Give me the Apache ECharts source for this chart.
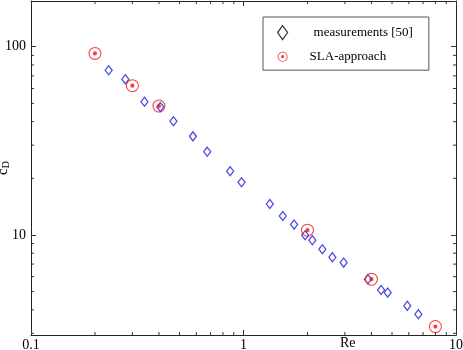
<!DOCTYPE html>
<html>
<head>
<meta charset="utf-8">
<script src="https://cdn.jsdelivr.net/npm/echarts@6/dist/echarts.min.js"></script>
<style>
  html, body { margin: 0; padding: 0; background: #fff; }
  #chart { width: 463px; height: 350px; }
</style>
</head>
<body>
<div id="chart"></div>
<script>
// measurements [50]
const measRe = [0.232, 0.278, 0.342, 0.406, 0.468, 0.578, 0.675, 0.865, 0.979, 1.33, 1.53,
  1.73, 1.95, 2.11, 2.35, 2.62, 2.96, 3.85, 4.44, 4.77, 5.90, 6.65];
const measCd = [75.0, 67.1, 51.0, 47.8, 40.2, 33.4, 27.7, 21.8, 19.05, 14.6, 12.6,
  11.35, 9.96, 9.37, 8.40, 7.62, 7.13, 5.82, 5.10, 4.94, 4.20, 3.79];
// SLA-approach
const slaRe = [0.2, 0.3, 0.4, 2, 4, 8];
const slaCd = [92.2, 62.1, 48.4, 10.6, 5.82, 3.26];

// axis ranges and minor tick positions
const xRange = [0.1, 10];
const yRange = [2.94, 175];
const xMinor = [0.2, 0.3, 0.4, 0.5, 0.6, 0.7, 0.8, 0.9, 2, 3, 4, 5, 6, 7, 8, 9];
const yMinor = [3, 4, 5, 6, 7, 8, 9, 20, 30, 40, 50, 60, 70, 80, 90];

const serif = "'Liberation Serif', 'DejaVu Serif', serif";
const axisColor = '#222';
const tickColor = '#333';

// ring with a dot in the middle
const slaSymbol = 'path://M0 50A50 50 0 1 1 100 50A50 50 0 1 1 0 50Z' +
  'M8 50A42 42 0 1 0 92 50A42 42 0 1 0 8 50Z' +
  'M34 50A16 16 0 1 1 66 50A16 16 0 1 1 34 50Z';

function pairs(xs, ys) {
  return xs.map((x, i) => [x, ys[i]]);
}

function tickLine(x1, y1, x2, y2) {
  return { type: 'line', shape: { x1, y1, x2, y2 }, style: { stroke: tickColor, lineWidth: 1 } };
}

let chart = echarts.init(document.getElementById('chart'));

let baseX = {
  type: 'log',
  logBase: 10,
  min: xRange[0],
  max: xRange[1],
  axisLine: { lineStyle: { color: axisColor, width: 1 } },
  axisTick: { inside: true, length: 5, lineStyle: { color: tickColor } },
  splitLine: { show: false }
};
let baseY = {
  type: 'log',
  logBase: 10,
  min: yRange[0],
  max: yRange[1],
  axisLine: { lineStyle: { color: axisColor, width: 1 } },
  axisTick: { inside: true, length: 5, lineStyle: { color: tickColor } },
  splitLine: { show: false }
};

let option = {
  animation: false,
  backgroundColor: '#fff',
  grid: { left: 31, right: 7, top: 1, bottom: 15, containLabel: false, outerBoundsMode: 'none' },
  xAxis: [
    Object.assign({}, baseX, {
      position: 'bottom',
      axisLabel: {
        margin: 3, color: '#000', fontSize: 14, fontFamily: serif,
        formatter: v => String(+Number(v).toPrecision(3))
      }
    }),
    Object.assign({}, baseX, { position: 'top', axisLabel: { show: false } })
  ],
  yAxis: [
    Object.assign({}, baseY, {
      position: 'left',
      name: '{c|c}{d|D}',
      nameLocation: 'middle',
      nameGap: 20,
      nameMoveOverlap: false,
      nameTextStyle: {
        color: '#000',
        rich: {
          c: { fontSize: 15, fontFamily: serif, color: '#000', lineHeight: 15 },
          d: { fontSize: 10, fontFamily: serif, color: '#000', lineHeight: 10, verticalAlign: 'bottom' }
        }
      },
      axisLabel: {
        margin: 5, color: '#000', fontSize: 14, fontFamily: serif,
        showMinLabel: false, showMaxLabel: false,
        formatter: v => String(+Number(v).toPrecision(3))
      }
    }),
    Object.assign({}, baseY, { position: 'right', axisLabel: { show: false } })
  ],
  legend: {
    orient: 'vertical',
    left: 263,
    top: 17,
    padding: [8, 16, 7, 14],
    itemWidth: 10,
    itemHeight: 14,
    itemGap: 10,
    borderColor: '#555',
    borderWidth: 1,
    backgroundColor: '#fff',
    selectedMode: false,
    textStyle: { fontSize: 13, fontFamily: serif, color: '#000' },
    data: [
      {
        name: 'measurements [50]',
        icon: 'diamond',
        itemStyle: { color: 'rgba(0,0,0,0)', borderColor: '#000', borderWidth: 1.2 },
        textStyle: { padding: [0, 0, 0, 21] }
      },
      {
        name: 'SLA-approach',
        icon: slaSymbol,
        itemStyle: { color: '#f01010', borderWidth: 0 },
        textStyle: { padding: [0, 0, 0, 17] }
      }
    ]
  },
  graphic: [
    {
      type: 'text',
      left: 340,
      top: 336,
      style: { text: 'Re', fontSize: 14, fontFamily: serif, fill: '#000' }
    }
  ],
  series: [
    {
      type: 'custom',
      name: 'xMinor',
      silent: true,
      data: xMinor,
      renderItem: (params, api) => {
        let cs = params.coordSys;
        let x = api.coord([api.value(0), yRange[0]])[0];
        let bottom = cs.y + cs.height;
        return {
          type: 'group',
          children: [tickLine(x, bottom, x, bottom - 3), tickLine(x, cs.y, x, cs.y + 3)]
        };
      }
    },
    {
      type: 'custom',
      name: 'yMinor',
      silent: true,
      data: yMinor,
      encode: { y: 0 },
      renderItem: (params, api) => {
        let cs = params.coordSys;
        let y = api.coord([xRange[0], api.value(0)])[1];
        let right = cs.x + cs.width;
        return {
          type: 'group',
          children: [tickLine(cs.x, y, cs.x + 3, y), tickLine(right, y, right - 3, y)]
        };
      }
    },
    {
      type: 'scatter',
      name: 'measurements [50]',
      symbol: 'diamond',
      symbolSize: [7, 9],
      itemStyle: { color: 'rgba(0,0,0,0)', borderColor: '#1f1fdc', borderWidth: 1.3 },
      data: pairs(measRe, measCd)
    },
    {
      type: 'scatter',
      name: 'SLA-approach',
      symbol: slaSymbol,
      symbolSize: 13,
      itemStyle: { color: '#f01010', borderWidth: 0 },
      data: pairs(slaRe, slaCd)
    }
  ]
};

chart.setOption(option);
</script>
</body>
</html>
